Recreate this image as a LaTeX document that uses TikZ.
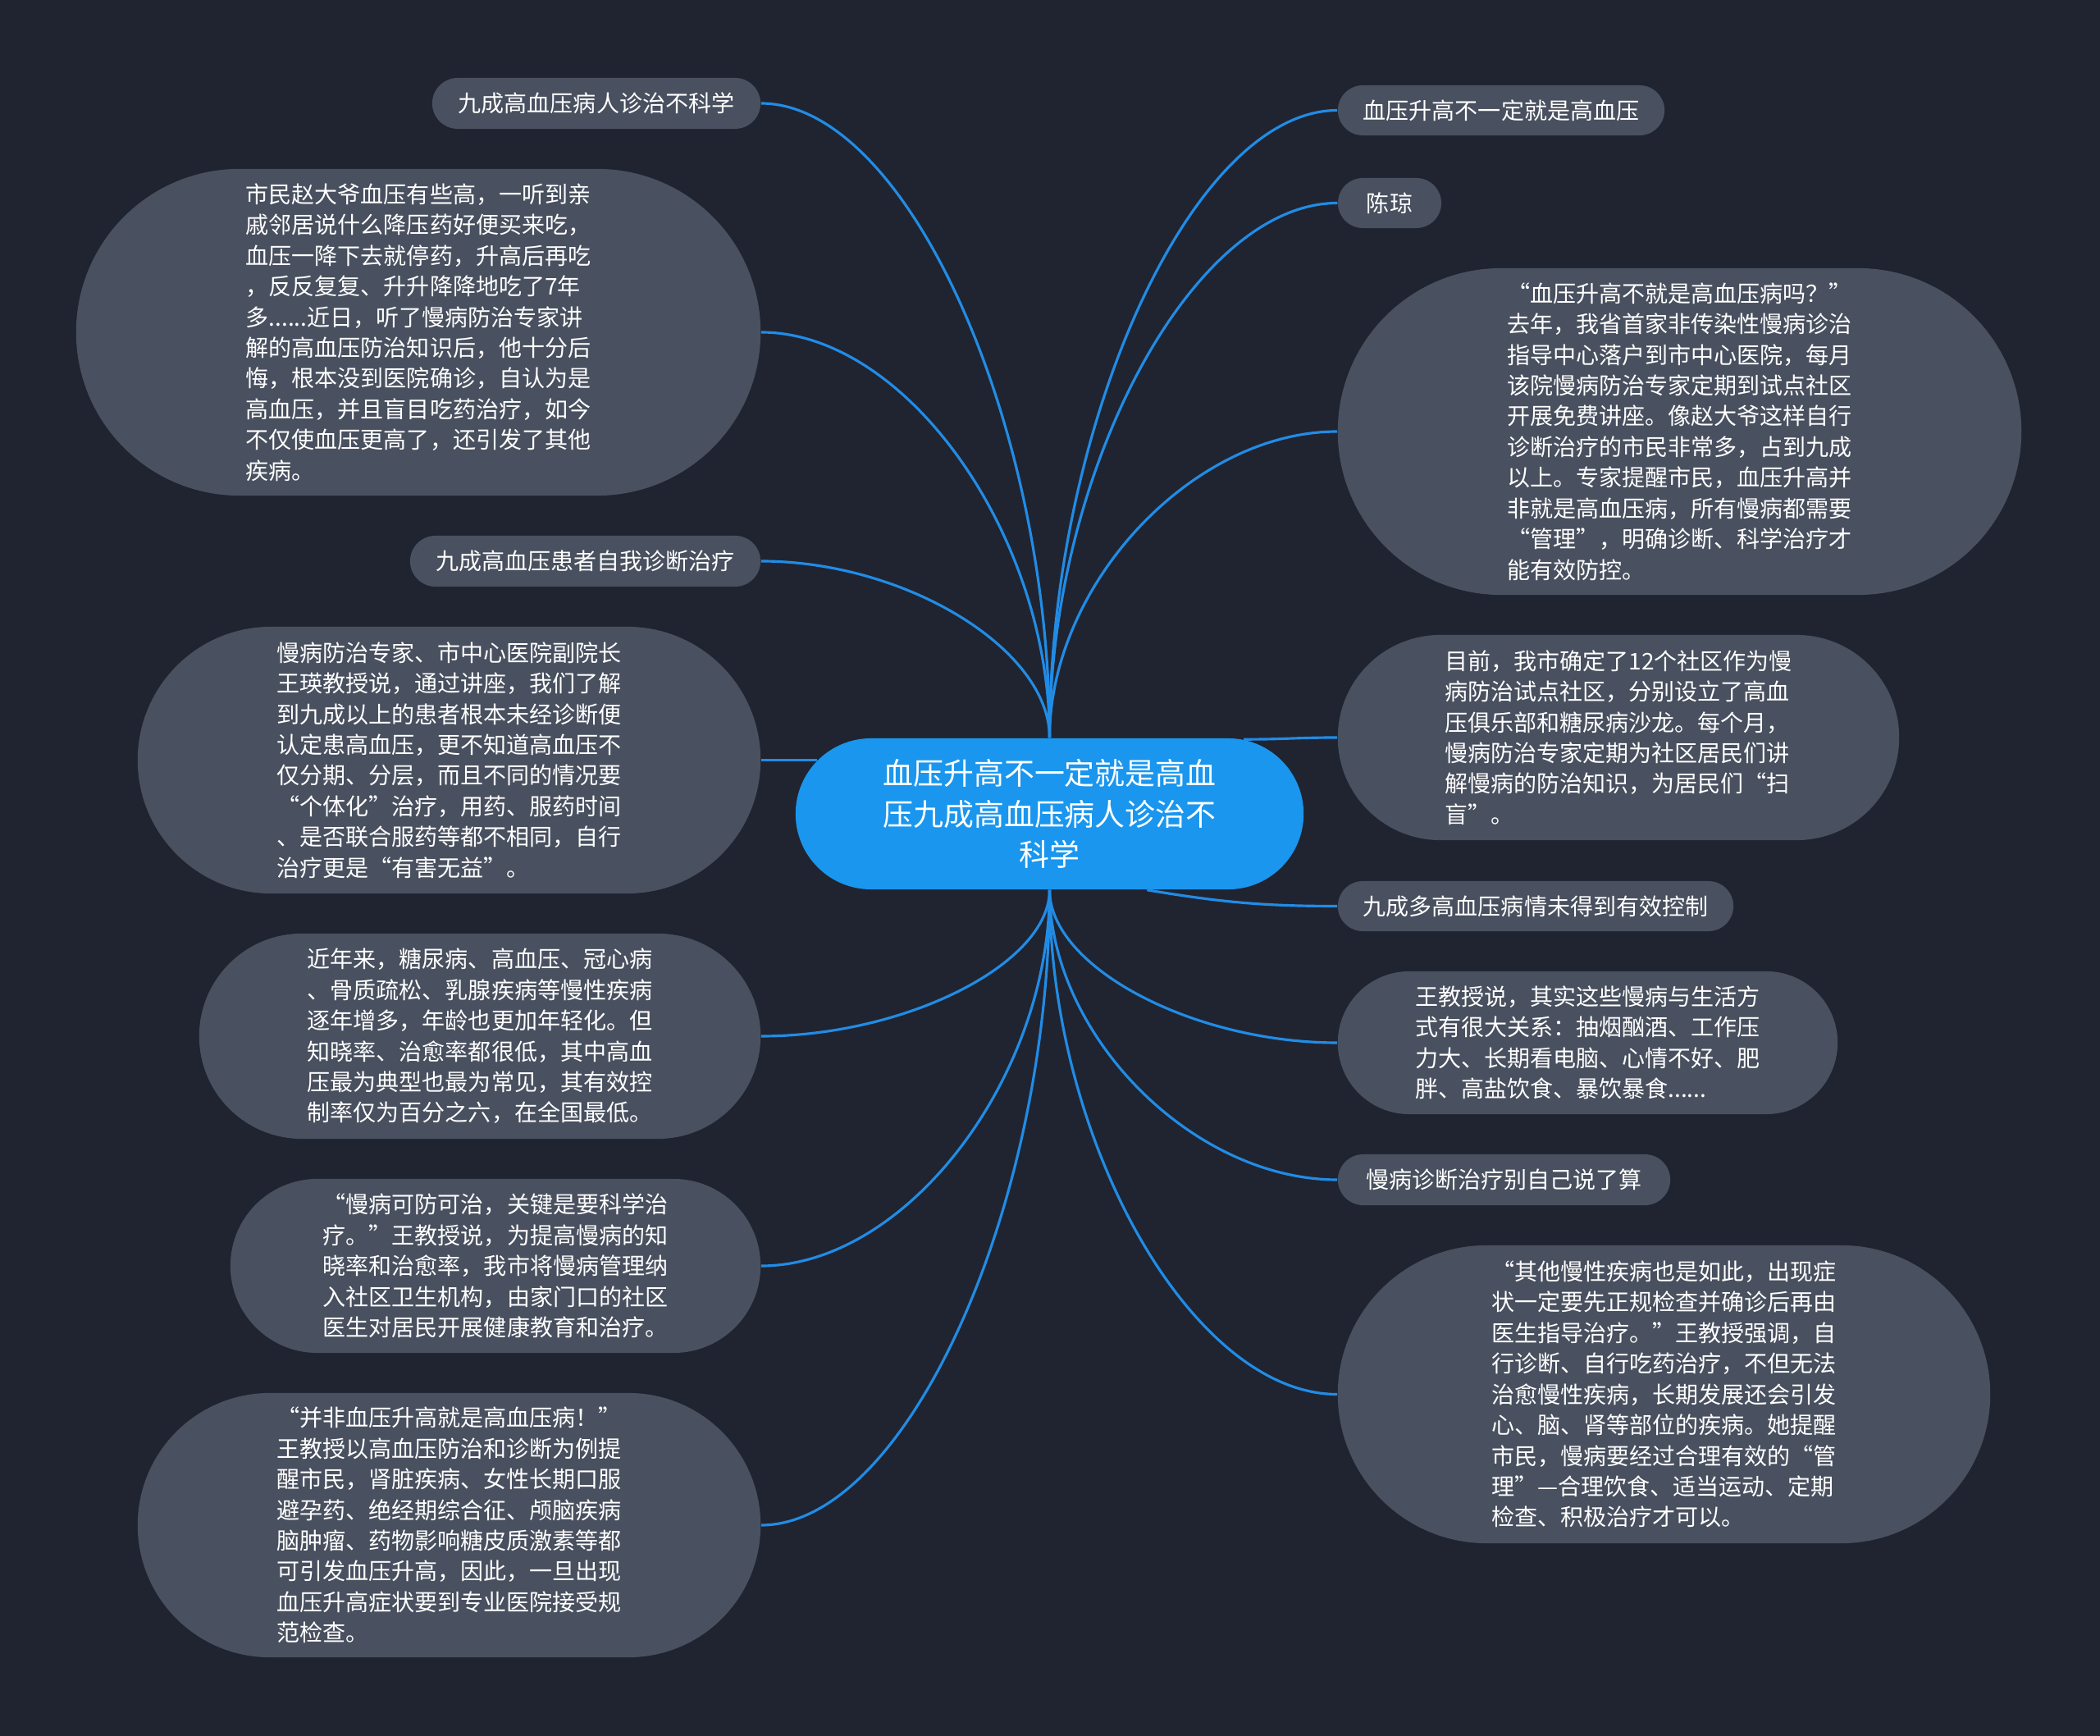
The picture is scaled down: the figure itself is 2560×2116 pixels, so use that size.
\documentclass[tikz,border=0pt]{standalone}
\usepackage{fontspec}
\setmainfont{Noto Sans CJK SC}
\usetikzlibrary{shapes.misc}
\definecolor{bgnavy}{HTML}{202430}
\definecolor{leafgrey}{HTML}{49505F}
\definecolor{hubblue}{HTML}{1A96EE}
\definecolor{linkblue}{HTML}{218CE6}
\tikzset{
  hub/.style={rounded rectangle,fill=hubblue,text=white,align=center,inner sep=0pt,
    font=\fontsize{10.5pt}{14.1pt}\selectfont},
  leaf/.style={rounded rectangle,fill=leafgrey,text=white,align=left,inner sep=0pt,
    font=\fontsize{7.97pt}{10.64pt}\selectfont},
  link/.style={draw=linkblue,line width=0.9pt},
}
\begin{document}
\begin{tikzpicture}[x=0.01cm,y=-0.01cm]
		\fill[bgnavy] (0,0) rectangle (2560,2116);
		\node[hub,minimum width=6.19cm,minimum height=1.84cm] (hub) at (1279.5,992)
		{血压升高不一定就是高血\\压九成高血压病人诊治不\\科学};
		\node[leaf,minimum width=4cm,minimum height=0.62cm] (l1) at (727,126) {九成高血压病人诊治不科学};
		\node[leaf,minimum width=8.34cm,minimum height=3.98cm] (l2) at (510,405)
		{市民赵大爷血压有些高，一听到亲\\戚邻居说什么降压药好便买来吃，\\血压一降下去就停药，升高后再吃\\，反反复复、升升降降地吃了7年\\多......近日，听了慢病防治专家讲\\解的高血压防治知识后，他十分后\\悔，根本没到医院确诊，自认为是\\高血压，并且盲目吃药治疗，如今\\不仅使血压更高了，还引发了其他\\疾病。};
		\node[leaf,minimum width=4.27cm,minimum height=0.62cm] (l3) at (713.5,684) {九成高血压患者自我诊断治疗};
		\node[leaf,minimum width=7.59cm,minimum height=3.25cm] (l4) at (547.5,926.5)
		{慢病防治专家、市中心医院副院长\\王瑛教授说，通过讲座，我们了解\\到九成以上的患者根本未经诊断便\\认定患高血压，更不知道高血压不\\仅分期、分层，而且不同的情况要\\“个体化”治疗，用药、服药时间\\、是否联合服药等都不相同，自行\\治疗更是“有害无益”。};
		\node[leaf,minimum width=6.84cm,minimum height=2.5cm] (l5) at (585,1263)
		{近年来，糖尿病、高血压、冠心病\\、骨质疏松、乳腺疾病等慢性疾病\\逐年增多，年龄也更加年轻化。但\\知晓率、治愈率都很低，其中高血\\压最为典型也最为常见，其有效控\\制率仅为百分之六，在全国最低。};
		\node[leaf,minimum width=6.46cm,minimum height=2.12cm] (l6) at (604,1543)
		{“慢病可防可治，关键是要科学治\\疗。”王教授说，为提高慢病的知\\晓率和治愈率，我市将慢病管理纳\\入社区卫生机构，由家门口的社区\\医生对居民开展健康教育和治疗。};
		\node[leaf,minimum width=7.59cm,minimum height=3.22cm] (l7) at (547.5,1859)
		{“并非血压升高就是高血压病！”\\王教授以高血压防治和诊断为例提\\醒市民，肾脏疾病、女性长期口服\\避孕药、绝经期综合征、颅脑疾病\\脑肿瘤、药物影响糖皮质激素等都\\可引发血压升高，因此，一旦出现\\血压升高症状要到专业医院接受规\\范检查。};
		\node[leaf,minimum width=3.98cm,minimum height=0.61cm] (r1) at (1830,134.5) {血压升高不一定就是高血压};
		\node[leaf,minimum width=1.26cm,minimum height=0.61cm] (r2) at (1694,247.5) {陈琼};
		\node[leaf,minimum width=8.33cm,minimum height=3.98cm] (r3) at (2047.5,526)
		{“血压升高不就是高血压病吗？”\\去年，我省首家非传染性慢病诊治\\指导中心落户到市中心医院，每月\\该院慢病防治专家定期到试点社区\\开展免费讲座。像赵大爷这样自行\\诊断治疗的市民非常多，占到九成\\以上。专家提醒市民，血压升高并\\非就是高血压病，所有慢病都需要\\“管理”，明确诊断、科学治疗才\\能有效防控。};
		\node[leaf,minimum width=6.84cm,minimum height=2.5cm] (r4) at (1973,899)
		{目前，我市确定了12个社区作为慢\\病防治试点社区，分别设立了高血\\压俱乐部和糖尿病沙龙。每个月，\\慢病防治专家定期为社区居民们讲\\解慢病的防治知识，为居民们“扫\\盲”。};
		\node[leaf,minimum width=4.82cm,minimum height=0.61cm] (r5) at (1872,1104.5) {九成多高血压病情未得到有效控制};
		\node[leaf,minimum width=6.09cm,minimum height=1.74cm] (r6) at (1935.5,1271)
		{王教授说，其实这些慢病与生活方\\式有很大关系：抽烟酗酒、工作压\\力大、长期看电脑、心情不好、肥\\胖、高盐饮食、暴饮暴食......};
		\node[leaf,minimum width=4.05cm,minimum height=0.62cm] (r7) at (1833.5,1438) {慢病诊断治疗别自己说了算};
		\node[leaf,minimum width=7.95cm,minimum height=3.63cm] (r8) at (2028.5,1699.5)
		{“其他慢性疾病也是如此，出现症\\状一定要先正规检查并确诊后再由\\医生指导治疗。”王教授强调，自\\行诊断、自行吃药治疗，不但无法\\治愈慢性疾病，长期发展还会引发\\心、脑、肾等部位的疾病。她提醒\\市民，慢病要经过合理有效的“管\\理”—合理饮食、适当运动、定期\\检查、积极治疗才可以。};
		\draw[link] (hub.north) .. controls +(0,-387) and +(176,0) .. (l1.east);
		\draw[link] (hub.north) .. controls +(0,-248) and +(176,0) .. (l2.east);
		\draw[link] (hub.north) .. controls +(0,-108) and +(176,0) .. (l3.east);
		\draw[link] (l4.east) -- (l4.east -| hub.167);
		\draw[link] (hub.south) .. controls +(0,90) and +(176,0) .. (l5.east);
		\draw[link] (hub.south) .. controls +(0,230) and +(176,0) .. (l6.east);
		\draw[link] (hub.south) .. controls +(0,388) and +(176,0) .. (l7.east);
		\draw[link] (hub.north) .. controls +(0,-383) and +(-176,0) .. (r1.west);
		\draw[link] (hub.north) .. controls +(0,-326) and +(-176,0) .. (r2.west);
		\draw[link] (hub.north) .. controls +(0,-187) and +(-176,0) .. (r3.west);
		\draw[link] (hub.21) .. controls +(50,0) and +(-50,0) .. (r4.west);
		\draw[link] (hub.-38) .. controls +(90,15) and +(-90,0) .. (r5.west);
		\draw[link] (hub.south) .. controls +(0,94) and +(-176,0) .. (r6.west);
		\draw[link] (hub.south) .. controls +(0,177) and +(-176,0) .. (r7.west);
		\draw[link] (hub.south) .. controls +(0,308) and +(-176,0) .. (r8.west);
\end{tikzpicture}
\end{document}
